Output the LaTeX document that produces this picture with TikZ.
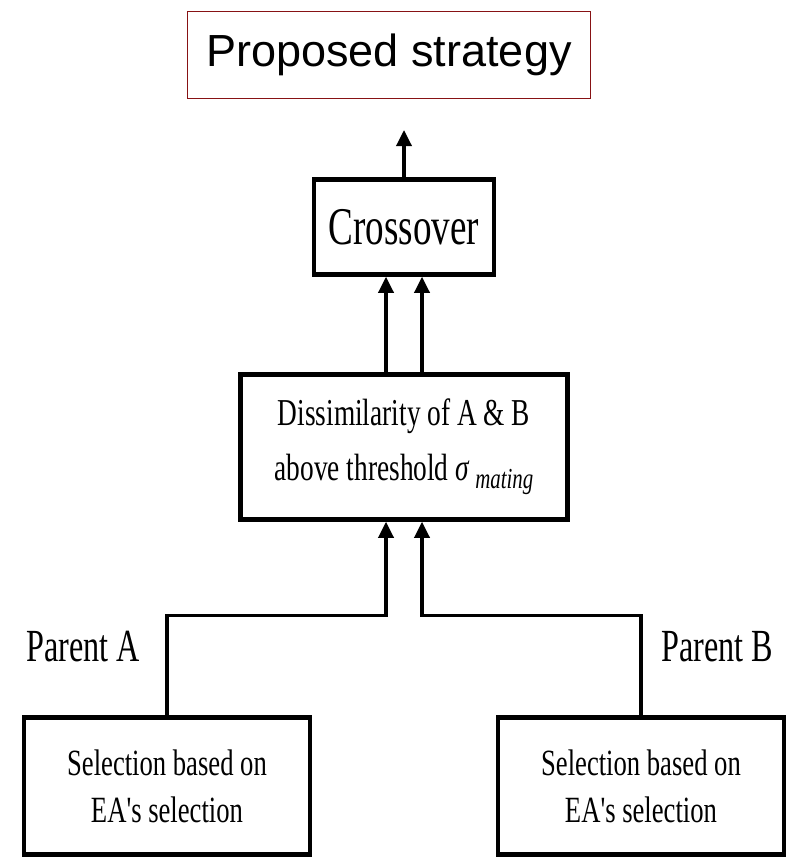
\documentclass[tikz,border=0pt]{standalone}
\usepackage{fontspec}
\usepackage{tikz}
\usetikzlibrary{arrows.meta}
\newfontfamily\titlefont{Liberation Sans}
\newfontfamily\condserif[FakeStretch=0.7]{Liberation Serif}
\newfontfamily\boxserif[FakeStretch=0.72]{Liberation Serif}
\definecolor{boxred}{RGB}{135,18,20}
\tikzstyle{titlebox} = [draw=boxred,line width=1.5pt,minimum width=403pt,minimum height=87pt,font=\titlefont\fontsize{45}{54}\selectfont]
\tikzstyle{block} = [draw,line width=4.5pt,align=center,inner sep=0pt]
\tikzstyle{link} = [line width=3.4pt]
\tikzstyle{arrow} = [line width=3.4pt,-{Triangle[length=16pt,width=15pt]}]
\tikzstyle{plabel} = [font=\condserif\fontsize{46}{50}\selectfont]

\begin{document}
\begin{tikzpicture}[x=1pt,y=-1pt]
\useasboundingbox (0,0) rectangle (789,862);

\node[titlebox] (title) at (389,55) {Proposed strategy};

\node[block,minimum width=180pt,minimum height=95pt,font=\condserif\fontsize{53}{56}\selectfont] (cross) at (404,227) {Crossover};
\node[block,minimum width=327pt,minimum height=145pt,font=\boxserif\fontsize{38}{55}\selectfont] (dissim) at (404,447)
{Dissimilarity of A \& B\\above threshold {\itshape σ}\,\raisebox{-0.45ex}{\fontsize{29}{29}\selectfont\itshape mating}};
\node[block,minimum width=286pt,minimum height=137pt,font=\boxserif\fontsize{37}{47}\selectfont] (selA) at (167,786) {Selection based on\\EA's selection};
\node[block,minimum width=286pt,minimum height=137pt,font=\boxserif\fontsize{37}{47}\selectfont] (selB) at (641,786) {Selection based on\\EA's selection};

\node[plabel] (pA) at (83,647) {Parent A};
\node[plabel] (pB) at (717,647) {Parent B};

\coordinate (out) at (404,130);

\draw[arrow] (selA.north) -- ++(0,-100) -| ([xshift=-18pt]dissim.south);
\draw[arrow] (selB.north) -- ++(0,-100) -| ([xshift=18pt]dissim.south);

\draw[arrow] ([xshift=-18pt]dissim.north) -- ([xshift=-18pt]cross.south);
\draw[arrow] ([xshift=18pt]dissim.north) -- ([xshift=18pt]cross.south);

\draw[arrow] (cross.north) -- (out);
\end{tikzpicture}
\end{document}
